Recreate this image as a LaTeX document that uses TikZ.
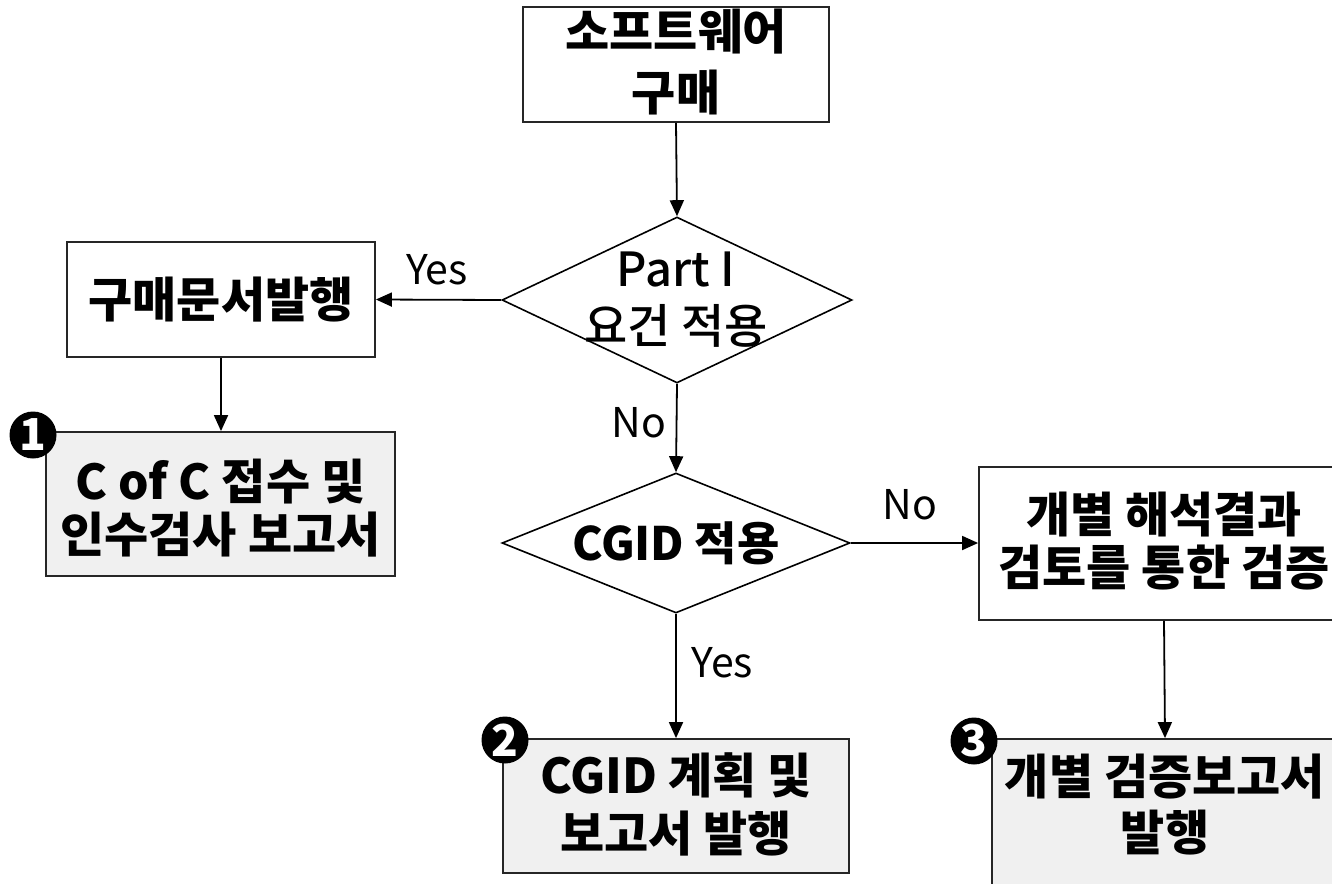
\documentclass[tikz,border=0pt]{standalone}
\usepackage{fontspec}
\setmainfont{Noto Sans CJK KR}
\newfontfamily\medfont{Noto Sans CJK KR Medium}
\usetikzlibrary{arrows.meta,shapes.geometric}
\begin{document}
\begin{tikzpicture}[x=1pt,y=-1pt,
  box/.style={draw=black!85,line width=1.8pt,rectangle,inner sep=0pt,fill=white},
  greybox/.style={box,fill=black!6},
  boxtext/.style={align=center,inner sep=0pt,font=\bfseries\fontsize{48}{53}\selectfont},
  dia/.style={draw=black,line width=1.6pt,diamond,inner sep=0pt,fill=white},
  lbl/.style={inner sep=0pt,font=\fontsize{41}{48}\selectfont},
  num/.style={circle,fill=black,inner sep=0pt,minimum size=47pt,text=white,font=\bfseries\fontsize{44}{44}\selectfont},
  arr/.style={draw=black,line width=1.8pt,-{Triangle[length=16pt,width=14pt]}}
]
\useasboundingbox (0,0) rectangle (1332,883);
% boxes
\node[box,minimum width=306pt,minimum height=115pt] (top) at (676,64.5) {};
\node[boxtext,font=\bfseries\fontsize{48}{60}\selectfont] (toptxt) at (676,62) {소프트웨어\\구매};
\node[dia,minimum width=350pt,minimum height=166pt] (d1) at (677,300) {};
\node[boxtext,font=\medfont\fontsize{47}{57}\selectfont] (d1txt) at (676,300) {Part I\\요건 적용};
\node[box,minimum width=308pt,minimum height=115pt] (buy) at (221,299.5) {};
\node[boxtext] (buytxt) at (221,300) {구매문서발행};
\node[greybox,minimum width=349pt,minimum height=144pt] (cofc) at (220.5,504) {};
\node[boxtext] (cofctxt) at (220.5,508) {C of C 접수 및\\인수검사 보고서};
\node[dia,minimum width=348pt,minimum height=140pt] (d2) at (676,543) {};
\node[boxtext,font=\bfseries\fontsize{46}{53}\selectfont] (d2txt) at (676,543) {CGID 적용};
\node[box,minimum width=370pt,minimum height=153pt] (rev) at (1164,543.5) {};
\node[boxtext] (revtxt) at (1164,541) {개별 해석결과\\검토를 통한 검증};
\node[greybox,minimum width=346pt,minimum height=134pt] (cgid) at (676,806) {};
\node[boxtext,font=\bfseries\fontsize{48}{58}\selectfont] (cgidtxt) at (676,804) {CGID 계획 및\\보고서 발행};
\node[greybox,minimum width=346pt,minimum height=160pt] (ind) at (1165,819) {};
\node[boxtext,font=\bfseries\fontsize{48}{56}\selectfont] (indtxt) at (1165,805) {개별 검증보고서\\발행};
% numbers
\node[num] (n1) at (33,435) {1};
\node[num] (n2) at (505,740) {2};
\node[num] (n3) at (974,741) {3};
% connectors
\draw[arr] (top.south) -- (d1.north);
\draw[arr] (d1.west) -- (buy.east);
\draw[arr] (buy.south) -- (cofc.north -| buy.south);
\draw[arr] (d1.south) -- (d2.north);
\draw[arr] (d2.east) -- (rev.west |- d2.east);
\draw[arr] (d2.south) -- (cgid.north);
\draw[arr] (rev.south) -- (ind.north);
% labels
\node[lbl] (yes1) at (437,270) {Yes};
\node[lbl] (no1) at (639,423) {No};
\node[lbl] (no2) at (910,505) {No};
\node[lbl] (yes2) at (722,663) {Yes};
\end{tikzpicture}
\end{document}
